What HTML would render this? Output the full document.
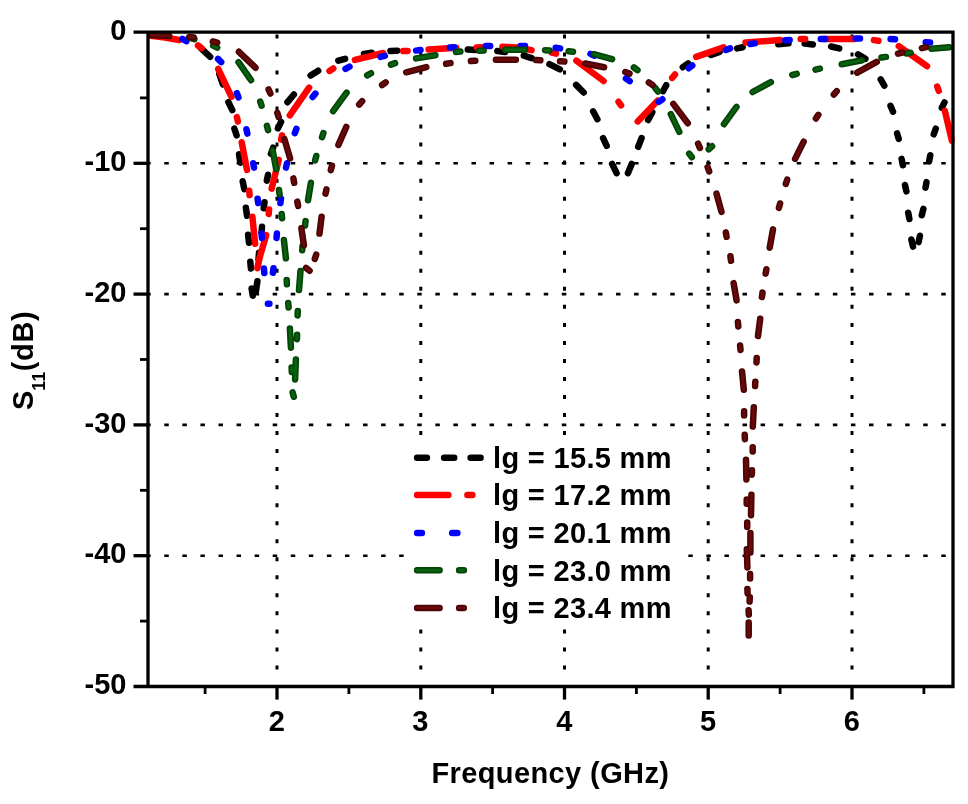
<!DOCTYPE html>
<html lang="en">
<head>
<meta charset="utf-8">
<title>S11 vs Frequency</title>
<style>
html,body{margin:0;padding:0;background:#fff;}
body{width:968px;height:804px;overflow:hidden;}
svg{display:block;filter:blur(0.45px);}
</style>
</head>
<body>
<svg width="968" height="804" viewBox="0 0 968 804">
<rect width="968" height="804" fill="#fff"/>
<g stroke="#000" stroke-width="2.6" stroke-dasharray="4.5 13.57" fill="none"><line x1="146.2" y1="163.3" x2="950.0" y2="163.3"/><line x1="146.2" y1="294.1" x2="950.0" y2="294.1"/><line x1="146.2" y1="424.9" x2="950.0" y2="424.9"/><line x1="146.2" y1="555.7" x2="950.0" y2="555.7"/></g>
<g stroke="#000" stroke-width="3.0" stroke-dasharray="4.0 14.03" fill="none"><line x1="277.0" y1="34.4" x2="277.0" y2="683.5"/><line x1="420.8" y1="34.4" x2="420.8" y2="683.5"/><line x1="564.5" y1="34.4" x2="564.5" y2="683.5"/><line x1="708.2" y1="34.4" x2="708.2" y2="683.5"/><line x1="852.0" y1="34.4" x2="852.0" y2="683.5"/></g>
<rect x="408" y="440" width="278" height="186" fill="#fff"/>
<clipPath id="c"><rect x="148.0" y="32.5" width="806.5" height="654.0"/></clipPath>
<g clip-path="url(#c)">
<path d="M201.1 48.4 L210.2 56.9 M219.2 73.7 L222.8 84.3 M228.4 102.1 L232.3 110.1 M234.4 128.7 L236.6 135.3 M239.0 154.3 L240.4 162.7 M242.7 181.3 L244.3 189.2 M245.9 207.8 L247.0 215.7 M248.1 234.8 L249.0 242.7 M250.3 261.7 L250.9 268.4 M251.6 288.5 L252.8 295.7 M255.9 291.2 L257.4 281.3 M258.5 259.2 L259.0 252.8 M261.5 232.2 L262.0 226.8 M263.7 208.2 L264.5 202.2 M266.8 180.7 L268.0 174.8 M270.9 153.8 L273.2 147.7 M277.9 128.4 L281.1 121.9 M287.5 102.2 L293.9 94.5 M310.6 75.6 L318.2 70.7 M338.3 60.7 L345.1 58.8 M364.0 53.9 L371.6 52.7 M390.5 51.0 L397.3 50.7 M467.8 49.5 L475.2 50.1 M497.4 51.0 L505.1 51.9 M523.8 55.6 L531.7 58.1 M549.4 64.2 L559.9 69.3 M576.1 84.9 L583.7 92.5 M593.1 111.3 L597.4 119.2 M603.1 138.1 L606.7 145.8 M612.1 163.9 L616.6 173.2 M627.9 173.2 L631.7 163.9 M638.2 146.8 L641.6 138.1 M648.1 120.0 L652.3 112.1 M663.0 91.2 L666.2 85.2 M682.8 67.2 L688.2 63.4 M711.1 54.9 L719.6 51.9 M737.1 48.4 L742.7 47.2 M778.3 44.2 L788.5 43.3 M804.7 43.5 L812.8 44.4 M831.1 46.5 L839.2 48.4 M858.0 54.4 L865.4 58.8 M880.7 79.4 L884.3 85.6 M890.5 105.8 L893.0 111.7 M897.1 133.4 L898.7 138.8 M901.6 158.9 L902.9 165.3 M905.0 185.0 L906.4 191.4 M908.2 212.7 L909.4 219.0 M911.4 239.5 L913.0 246.6 M918.6 242.1 L919.9 235.8 M921.8 215.3 L923.4 208.9 M925.5 187.6 L926.5 182.1 M929.1 161.5 L930.3 155.2 M933.7 134.3 L935.8 128.7 M941.8 107.8 L944.5 102.4" fill="none" stroke="#000000" stroke-width="6.5" stroke-linecap="round" stroke-linejoin="round"/>
<path d="M150.8 35.8 L165.0 37.5 L179.2 40.0 M198.0 45.5 L201.6 48.1 M218.2 69.0 L231.5 96.9 M236.9 117.1 L237.9 121.5 M241.7 142.3 L247.0 169.9 M249.2 190.7 L249.6 195.1 M252.4 216.7 L255.1 243.8 M257.4 268.2 L259.5 258.0 L266.2 235.2 M268.7 213.9 L269.1 209.5 M271.6 188.7 L278.8 159.8 M281.1 139.7 L282.1 135.3 M289.8 115.4 L309.1 87.7 M329.5 70.9 L333.3 68.5 M354.9 59.9 L383.2 53.0 M403.2 51.1 L407.6 50.9 M428.6 49.6 L456.2 47.7 M476.7 47.4 L481.1 47.2 M502.4 46.7 L517.0 47.5 L531.6 50.1 M551.7 52.6 L556.1 53.6 M576.4 60.6 L603.6 81.0 M618.5 101.8 L621.1 105.4 M637.7 121.4 L657.6 100.8 M672.2 77.9 L675.0 74.5 M696.2 56.9 L723.6 47.3 M745.5 42.6 L780.2 39.9 M800.7 38.9 L805.1 38.9 M823.8 38.9 L854.1 38.9 M874.0 40.1 L878.4 40.7 M898.8 46.2 L927.0 66.2 M937.2 86.6 L938.8 90.8 M944.9 110.9 L951.9 140.7" fill="none" stroke="#ff0000" stroke-width="6.5" stroke-linecap="round" stroke-linejoin="round"/>
<path d="M182.4 38.9 L186.4 41.1 M218.0 58.9 L221.2 62.1 M236.9 93.2 L238.5 97.4 M246.4 129.2 L247.4 133.6 M253.2 163.2 L254.0 167.6 M257.6 198.7 L258.2 203.1 M261.5 233.5 L261.9 237.9 M263.9 268.6 L264.3 273.0 M267.9 303.8 L269.4 303.8 M272.9 272.7 L273.5 268.3 M276.5 237.9 L276.9 233.5 M280.4 203.1 L281.0 198.7 M286.0 167.6 L287.0 163.2 M294.8 133.1 L296.4 128.9 M312.6 97.0 L315.4 93.6 M345.5 68.8 L349.5 66.6 M380.5 56.9 L384.9 55.9 M416.1 50.6 L420.5 50.0 M449.8 47.4 L454.2 47.2 M485.8 46.0 L490.2 46.0 M520.6 45.9 L525.0 46.1 M555.7 47.8 L560.1 48.4 M590.5 53.9 L594.5 55.7 M625.9 78.5 L629.7 81.1 M658.8 101.9 L662.4 99.3 M688.7 68.2 L692.3 65.4 M725.9 50.0 L730.1 48.4 M750.4 44.0 L754.8 43.4 M785.3 40.3 L789.7 39.9 M820.8 38.9 L825.2 38.9 M855.6 38.6 L860.0 38.6 M890.6 39.1 L895.0 39.3 M925.7 42.2 L930.1 42.6" fill="none" stroke="#0000ff" stroke-width="6.5" stroke-linecap="round" stroke-linejoin="round"/>
<path d="M190.2 37.8 L194.4 39.2 M213.2 45.6 L217.2 47.6 M238.5 62.1 L251.0 80.2 M260.2 101.5 L261.6 105.7 M266.9 125.8 L268.1 130.2 M272.6 150.2 L276.2 169.1 M279.0 190.0 L279.6 194.4 M281.7 213.9 L282.1 218.3 M283.9 239.9 L285.9 258.3 M286.7 279.9 L286.9 284.3 M288.2 303.0 L288.6 307.4 M289.9 328.6 L290.9 347.7 M291.6 367.6 L291.8 372.0 M292.6 392.4 L293.8 396.8 M295.1 379.4 L295.9 359.5 M296.9 339.2 L297.1 334.8 M297.6 315.4 L297.8 311.0 M299.0 290.1 L300.5 271.1 M302.2 250.2 L302.6 245.8 M305.0 225.5 L305.6 221.1 M308.0 200.2 L310.9 182.7 M315.1 160.4 L316.3 156.0 M322.0 137.2 L323.4 133.0 M333.1 111.2 L346.6 92.7 M367.2 75.4 L371.0 73.2 M390.9 64.6 L395.1 63.2 M416.1 58.4 L435.4 55.3 M456.0 52.0 L460.4 51.6 M479.2 50.7 L483.6 50.5 M505.0 49.8 L524.9 49.8 M545.1 50.2 L549.5 50.4 M568.6 51.3 L573.0 51.7 M593.8 54.2 L612.1 59.2 M633.9 67.5 L637.5 70.1 M655.2 87.9 L658.0 91.5 M670.8 114.2 L679.3 131.9 M689.2 153.6 L691.8 157.2 M708.7 149.3 L712.1 146.3 M724.0 124.2 L736.5 106.9 M752.6 92.0 L770.8 82.1 M792.3 75.0 L796.7 73.8 M815.5 69.6 L819.9 68.6 M841.7 64.3 L862.2 60.2 M881.5 57.5 L885.9 56.9 M906.2 53.5 L910.6 52.7 M931.4 48.8 L949.2 47.2" fill="none" stroke="#044506" stroke-width="6.5" stroke-linecap="round" stroke-linejoin="round"/><path d="M190.2 37.8 L194.4 39.2 M213.2 45.6 L217.2 47.6 M238.5 62.1 L251.0 80.2 M260.2 101.5 L261.6 105.7 M266.9 125.8 L268.1 130.2 M272.6 150.2 L276.2 169.1 M279.0 190.0 L279.6 194.4 M281.7 213.9 L282.1 218.3 M283.9 239.9 L285.9 258.3 M286.7 279.9 L286.9 284.3 M288.2 303.0 L288.6 307.4 M289.9 328.6 L290.9 347.7 M291.6 367.6 L291.8 372.0 M292.6 392.4 L293.8 396.8 M295.1 379.4 L295.9 359.5 M296.9 339.2 L297.1 334.8 M297.6 315.4 L297.8 311.0 M299.0 290.1 L300.5 271.1 M302.2 250.2 L302.6 245.8 M305.0 225.5 L305.6 221.1 M308.0 200.2 L310.9 182.7 M315.1 160.4 L316.3 156.0 M322.0 137.2 L323.4 133.0 M333.1 111.2 L346.6 92.7 M367.2 75.4 L371.0 73.2 M390.9 64.6 L395.1 63.2 M416.1 58.4 L435.4 55.3 M456.0 52.0 L460.4 51.6 M479.2 50.7 L483.6 50.5 M505.0 49.8 L524.9 49.8 M545.1 50.2 L549.5 50.4 M568.6 51.3 L573.0 51.7 M593.8 54.2 L612.1 59.2 M633.9 67.5 L637.5 70.1 M655.2 87.9 L658.0 91.5 M670.8 114.2 L679.3 131.9 M689.2 153.6 L691.8 157.2 M708.7 149.3 L712.1 146.3 M724.0 124.2 L736.5 106.9 M752.6 92.0 L770.8 82.1 M792.3 75.0 L796.7 73.8 M815.5 69.6 L819.9 68.6 M841.7 64.3 L862.2 60.2 M881.5 57.5 L885.9 56.9 M906.2 53.5 L910.6 52.7 M931.4 48.8 L949.2 47.2" fill="none" stroke="#096212" stroke-width="2.9" stroke-linecap="round" stroke-linejoin="round"/>
<path d="M151.0 35.1 L169.2 36.1 M189.3 36.9 L193.7 37.5 M212.8 41.5 L217.2 42.7 M238.9 51.8 L255.5 67.7 M268.6 89.5 L270.4 93.5 M277.3 112.9 L278.7 117.1 M284.4 139.2 L290.1 158.4 M293.4 178.4 L294.2 182.8 M297.3 201.6 L298.1 206.0 M301.4 228.3 L303.9 245.3 M306.0 267.9 L309.6 270.7 M314.8 258.9 L316.2 254.7 M319.5 233.6 L321.6 216.7 M325.5 193.7 L326.5 189.3 M330.8 170.1 L332.0 165.7 M338.4 144.9 L346.3 126.9 M359.2 104.5 L362.2 101.1 M382.1 85.0 L385.7 82.4 M406.2 72.3 L426.3 67.1 M446.1 63.7 L450.5 63.1 M470.9 61.1 L475.3 60.7 M495.9 59.7 L515.8 59.7 M536.0 60.1 L540.4 60.3 M560.0 61.3 L564.4 61.5 M585.2 63.5 L604.1 67.3 M625.3 72.0 L629.5 73.6 M648.8 82.5 L652.6 84.9 M673.3 103.9 L687.8 123.2 M698.1 143.7 L699.9 147.9 M707.6 167.2 L709.2 171.4 M716.5 193.6 L721.5 211.9 M725.8 232.4 L726.6 236.8 M730.4 256.3 L731.0 260.7 M733.6 283.1 L736.6 300.4 M737.9 322.0 L738.3 326.4 M740.1 345.5 L740.5 349.9 M742.0 371.4 L743.8 389.7 M744.1 411.2 L744.1 415.6 M744.7 434.8 L744.9 439.2 M746.0 459.7 L746.4 479.4 M746.7 499.4 L746.7 503.8 M747.2 522.5 L747.2 527.0 M746.8 549.2 L747.4 567.5 M747.4 589.0 L747.6 593.4 M748.6 610.3 L748.8 614.7 M748.7 622.5 L748.7 635.6 M749.6 601.6 L749.8 597.2 M750.1 578.5 L750.1 574.1 M750.4 552.5 L750.4 532.9 M751.0 515.3 L751.4 494.7 M751.8 474.7 L752.0 470.3 M752.7 451.6 L752.7 447.2 M752.8 426.5 L753.8 407.2 M755.1 386.1 L755.3 381.7 M756.5 362.4 L756.7 358.0 M758.0 336.0 L760.2 318.7 M761.9 297.0 L762.5 292.6 M765.6 273.6 L766.4 269.2 M769.7 247.7 L773.0 229.4 M778.9 207.9 L780.1 203.5 M785.8 183.9 L787.2 179.7 M795.1 158.9 L803.7 141.6 M815.9 118.6 L818.3 114.8 M833.8 94.5 L836.8 91.1 M857.2 72.6 L876.7 61.9 M898.0 53.7 L902.4 52.5 M921.9 48.1 L926.3 47.1" fill="none" stroke="#4a0404" stroke-width="6.5" stroke-linecap="round" stroke-linejoin="round"/><path d="M151.0 35.1 L169.2 36.1 M189.3 36.9 L193.7 37.5 M212.8 41.5 L217.2 42.7 M238.9 51.8 L255.5 67.7 M268.6 89.5 L270.4 93.5 M277.3 112.9 L278.7 117.1 M284.4 139.2 L290.1 158.4 M293.4 178.4 L294.2 182.8 M297.3 201.6 L298.1 206.0 M301.4 228.3 L303.9 245.3 M306.0 267.9 L309.6 270.7 M314.8 258.9 L316.2 254.7 M319.5 233.6 L321.6 216.7 M325.5 193.7 L326.5 189.3 M330.8 170.1 L332.0 165.7 M338.4 144.9 L346.3 126.9 M359.2 104.5 L362.2 101.1 M382.1 85.0 L385.7 82.4 M406.2 72.3 L426.3 67.1 M446.1 63.7 L450.5 63.1 M470.9 61.1 L475.3 60.7 M495.9 59.7 L515.8 59.7 M536.0 60.1 L540.4 60.3 M560.0 61.3 L564.4 61.5 M585.2 63.5 L604.1 67.3 M625.3 72.0 L629.5 73.6 M648.8 82.5 L652.6 84.9 M673.3 103.9 L687.8 123.2 M698.1 143.7 L699.9 147.9 M707.6 167.2 L709.2 171.4 M716.5 193.6 L721.5 211.9 M725.8 232.4 L726.6 236.8 M730.4 256.3 L731.0 260.7 M733.6 283.1 L736.6 300.4 M737.9 322.0 L738.3 326.4 M740.1 345.5 L740.5 349.9 M742.0 371.4 L743.8 389.7 M744.1 411.2 L744.1 415.6 M744.7 434.8 L744.9 439.2 M746.0 459.7 L746.4 479.4 M746.7 499.4 L746.7 503.8 M747.2 522.5 L747.2 527.0 M746.8 549.2 L747.4 567.5 M747.4 589.0 L747.6 593.4 M748.6 610.3 L748.8 614.7 M748.7 622.5 L748.7 635.6 M749.6 601.6 L749.8 597.2 M750.1 578.5 L750.1 574.1 M750.4 552.5 L750.4 532.9 M751.0 515.3 L751.4 494.7 M751.8 474.7 L752.0 470.3 M752.7 451.6 L752.7 447.2 M752.8 426.5 L753.8 407.2 M755.1 386.1 L755.3 381.7 M756.5 362.4 L756.7 358.0 M758.0 336.0 L760.2 318.7 M761.9 297.0 L762.5 292.6 M765.6 273.6 L766.4 269.2 M769.7 247.7 L773.0 229.4 M778.9 207.9 L780.1 203.5 M785.8 183.9 L787.2 179.7 M795.1 158.9 L803.7 141.6 M815.9 118.6 L818.3 114.8 M833.8 94.5 L836.8 91.1 M857.2 72.6 L876.7 61.9 M898.0 53.7 L902.4 52.5 M921.9 48.1 L926.3 47.1" fill="none" stroke="#6a0909" stroke-width="2.9" stroke-linecap="round" stroke-linejoin="round"/>
</g>
<g stroke="#000" stroke-width="3.3" fill="none"><path d="M133.5 32.2 H954.6 M953.0 32.5 V686.5 M148.0 30.6 V686.5 M133.5 686.5 H954.6"/><path d="M133.5 163.3 H148.0"/><path d="M133.5 294.1 H148.0"/><path d="M133.5 424.9 H148.0"/><path d="M133.5 555.7 H148.0"/><path stroke-width="2.8" d="M140.0 97.9 H148.0"/><path stroke-width="2.8" d="M140.0 228.7 H148.0"/><path stroke-width="2.8" d="M140.0 359.5 H148.0"/><path stroke-width="2.8" d="M140.0 490.3 H148.0"/><path stroke-width="2.8" d="M140.0 621.1 H148.0"/><path d="M277.0 686.5 V699.6"/><path d="M420.8 686.5 V699.6"/><path d="M564.5 686.5 V699.6"/><path d="M708.2 686.5 V699.6"/><path d="M852.0 686.5 V699.6"/><path stroke-width="2.8" d="M205.1 686.5 V694.0"/><path stroke-width="2.8" d="M348.9 686.5 V694.0"/><path stroke-width="2.8" d="M492.6 686.5 V694.0"/><path stroke-width="2.8" d="M636.4 686.5 V694.0"/><path stroke-width="2.8" d="M780.1 686.5 V694.0"/><path stroke-width="2.8" d="M923.9 686.5 V694.0"/></g>
<path d="M417.1 457.7 H426.9 M444.1 457.7 H454.2 M470.6 457.7 H480.6" stroke="#000" stroke-width="6.5" stroke-linecap="round" fill="none"/><path d="M417.1 494.9 H448.4 M467.4 494.9 H472.4" stroke="#ff0000" stroke-width="6.5" stroke-linecap="round" fill="none"/><path d="M417.1 532.9 H421.9 M452.2 532.9 H457.4" stroke="#0000ff" stroke-width="6.5" stroke-linecap="round" fill="none"/><path d="M417.1 570.3 H439.6 M459.1 570.3 H463.9" stroke="#044506" stroke-width="6.5" stroke-linecap="round" fill="none"/><path d="M417.1 570.3 H439.6 M459.1 570.3 H463.9" stroke="#096212" stroke-width="2.9" stroke-linecap="round" fill="none"/><path d="M417.1 607.9 H439.6 M459.1 607.9 H463.8" stroke="#4a0404" stroke-width="6.5" stroke-linecap="round" fill="none"/><path d="M417.1 607.9 H439.6 M459.1 607.9 H463.8" stroke="#6a0909" stroke-width="2.9" stroke-linecap="round" fill="none"/>
<g font-family="'Liberation Sans', Arial, Helvetica, sans-serif" font-weight="bold" font-size="29" fill="#000">
<text x="126.4" y="40.2" text-anchor="end">0</text>
<text x="126.4" y="171.0" text-anchor="end">-10</text>
<text x="126.4" y="301.8" text-anchor="end">-20</text>
<text x="126.4" y="432.6" text-anchor="end">-30</text>
<text x="126.4" y="563.4" text-anchor="end">-40</text>
<text x="126.4" y="694.2" text-anchor="end">-50</text>
<text x="276.7" y="730.6" text-anchor="middle">2</text>
<text x="420.4" y="730.6" text-anchor="middle">3</text>
<text x="564.2" y="730.6" text-anchor="middle">4</text>
<text x="708.0" y="730.6" text-anchor="middle">5</text>
<text x="851.7" y="730.6" text-anchor="middle">6</text>
<text x="493" y="467.8" letter-spacing="0.33">lg = 15.5 mm</text>
<text x="493" y="505.4" letter-spacing="0.33">lg = 17.2 mm</text>
<text x="493" y="542.9" letter-spacing="0.33">lg = 20.1 mm</text>
<text x="493" y="580.5" letter-spacing="0.33">lg = 23.0 mm</text>
<text x="493" y="618.0" letter-spacing="0.33">lg = 23.4 mm</text>
<text x="550.4" y="783" text-anchor="middle" letter-spacing="0.4">Frequency (GHz)</text>
<text transform="translate(33.2 410) rotate(-90)" letter-spacing="0.6">S<tspan font-size="17.5" dy="11.5" dx="-0.8">11</tspan><tspan dy="-11.5">(dB)</tspan></text>
</g>
</svg>
</body>
</html>
